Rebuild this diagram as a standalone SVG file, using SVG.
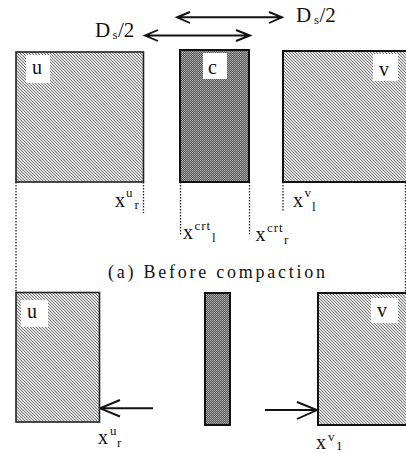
<svg xmlns="http://www.w3.org/2000/svg" width="406" height="453" viewBox="0 0 406 453">
<style>
text{font-family:"Liberation Serif","Times New Roman",serif;fill:#111}
.l{font-size:20px}.s{font-size:13px}.m{font-size:20px}.ds{font-size:21px}
.n{stroke:#111;stroke-width:2}
.t{stroke:#222;stroke-width:1.6}
.h{fill:url(#hatch)}.d{fill:url(#dark)}
.lab{fill:#fff;stroke:none}
.dot{fill:none;stroke:#222;stroke-width:1.3;stroke-dasharray:1.5 1.5}
.a{fill:none;stroke:#111;stroke-width:1.9}
</style>
<defs>
<pattern id="hatch" width="3" height="3" patternUnits="userSpaceOnUse"><rect width="3" height="3" fill="#e2e2e2"/><path d="M-1 -1L4 4M-1 2L1 4M2 -1L4 1" stroke="#6e6e6e" stroke-width="0.9"/></pattern>
<pattern id="dark" width="2" height="2" patternUnits="userSpaceOnUse"><rect width="2" height="2" fill="#5c5c5c"/><rect width="1" height="1" fill="#aaa"/><rect x="1" y="1" width="1" height="1" fill="#999"/></pattern>
</defs>
<g id="connectors">
<path class="dot" d="M16 182V292M143.500 182V213M180.500 182V236M249.500 182V234M283 182V212M405.500 182V292"/>
<path class="a" d="M177 17.300H282M190 12L177 17.300L190 23M269 12L282 17.300L269 23"/>
<path class="a" d="M145 35.500H250M158 30L145 35.500L158 41M236 30L250 35.500L236 41"/>
<path class="a" d="M153 408.300H100M120 400L100 408.300L120 416.500"/>
<path class="a" d="M265 410H317M297 402L317 410L297 419"/>
</g>
<g id="node-u-top"><rect class="h t" x="16" y="52" width="127.500" height="130"/><rect class="lab" x="26" y="55" width="24" height="28"/><text class="l" x="32" y="74">u</text></g>
<g id="node-c-top"><rect class="d n" x="180" y="50" width="69" height="132"/><rect class="lab" x="203" y="53" width="24" height="26"/><text class="l" x="208" y="74">c</text></g>
<g id="node-v-top"><rect class="h n" x="283" y="51" width="125" height="131"/><rect class="lab" x="373" y="54" width="25" height="27"/><text class="l" x="379" y="76">v</text></g>
<g id="node-u-bottom"><rect class="h t" x="16" y="292.500" width="83.500" height="129.500"/><rect class="lab" x="21" y="300" width="27" height="27"/><text class="l" x="27" y="318">u</text></g>
<g id="node-c-bottom"><rect class="d n" x="205" y="293" width="25" height="132"/></g>
<g id="node-v-bottom"><rect class="h n" x="318" y="293" width="90" height="132"/><rect class="lab" x="371" y="298" width="27" height="25"/><text class="l" x="377" y="317">v</text></g>
<g id="labels">
<text class="ds" x="95" y="37">D</text><text class="s" x="112.500" y="39">s</text><text class="ds" x="118" y="37">/2</text>
<text class="ds" x="296" y="21.500">D</text><text class="s" x="314" y="23.500">s</text><text class="ds" x="319.500" y="21.500">/2</text>
<text class="m" x="115" y="207">x</text><text class="s" x="126" y="197">u</text><text class="s" x="134.500" y="209">r</text>
<text class="m" x="293" y="207">x</text><text class="s" x="304.500" y="197">v</text><text class="s" x="312" y="210.500">l</text>
<text class="m" x="183" y="239">x</text><text class="s" x="194.500" y="230" letter-spacing="1">crt</text><text class="s" x="212" y="241.500">l</text>
<text class="m" x="255.500" y="240.500">x</text><text class="s" x="267" y="231.500" letter-spacing="1">crt</text><text class="s" x="284" y="244">r</text>
<text x="108" y="278" font-size="18" letter-spacing="2.750">(a) Before compaction</text>
<text class="m" x="98" y="444">x</text><text class="s" x="110" y="435">u</text><text class="s" x="117" y="447">r</text>
<text class="m" x="316" y="448.500">x</text><text class="s" x="328" y="441">v</text><text class="s" x="336" y="450">1</text>
</g>
</svg>
